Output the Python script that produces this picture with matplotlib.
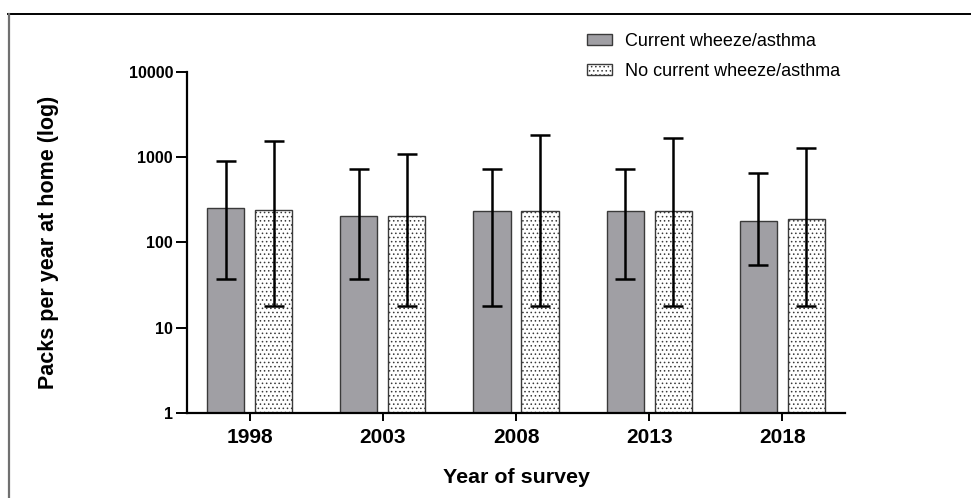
import matplotlib.pyplot as plt
import numpy as np
from matplotlib.lines import Line2D

plt.rcParams['font.family'] = ['Liberation Sans', 'DejaVu Sans']
plt.rcParams['hatch.linewidth'] = 0.6

years = ['1998', '2003', '2008', '2013', '2018']
series_names = ['Current wheeze/asthma', 'No current wheeze/asthma']

# median and range (low, high)
wheeze_mid = [256, 201, 236, 236, 177]
wheeze_low = [37, 37, 18, 37, 54]
wheeze_high = [906, 724, 724, 724, 650]

nowheeze_mid = [241, 201, 234, 234, 188]
nowheeze_low = [18, 18, 18, 18, 18]
nowheeze_high = [1560, 1090, 1820, 1660, 1295]

fig = plt.figure(figsize=(9.71, 4.98), dpi=100)
ax = fig.add_axes([187 / 971, 1 - 413 / 498, 658 / 971, 341 / 498])

x = np.arange(len(years))
w = 0.28
off = 0.18

def draw(xpos, mid, low, high, **kw):
    mid = np.array(mid)
    err = [mid - np.array(low), np.array(high) - mid]
    bars = ax.bar(xpos, mid, width=w, bottom=1, linewidth=1.0, zorder=2, **kw)
    ax.errorbar(xpos, mid, yerr=err, fmt='none', ecolor='black', elinewidth=1.8,
                capsize=7, capthick=1.8, zorder=3)
    return bars

b1 = draw(x - off, wheeze_mid, wheeze_low, wheeze_high,
          color='#a09fa4', edgecolor='#3a3a3a', label=series_names[0])
b2 = draw(x + off, nowheeze_mid, nowheeze_low, nowheeze_high,
          color='white', edgecolor='#3a3a3a', hatch='....', label=series_names[1])

ax.set_yscale('log')
ax.set_ylim(1, 10000)
ax.set_xlim(-0.47, 4.47)
yt = [1, 10, 100, 1000, 10000]
ax.set_yticks(yt)
ax.set_yticklabels([str(v) for v in yt], fontsize=11.5, fontweight='bold')
ax.minorticks_off()
ax.set_xticks(x)
ax.set_xticklabels(years, fontsize=15, fontweight='bold')

for s in ['top', 'right']:
    ax.spines[s].set_visible(False)
for s in ['left', 'bottom']:
    ax.spines[s].set_linewidth(1.6)
ax.tick_params(axis='y', length=8, width=1.4, pad=2)
ax.tick_params(axis='x', length=6, width=1.4, pad=5)

ax.set_ylabel('Packs per year at home (log)', fontsize=15.5, fontweight='bold', va='center')
ax.yaxis.set_label_coords(-0.211, 0.5)
ax.set_xlabel('Year of survey', fontsize=15.4, fontweight='bold', va='center')
ax.xaxis.set_label_coords(0.5, -0.19)

ax.legend(handles=[b1, b2], loc='upper left', bbox_to_anchor=(587 / 971, 1 - 33 / 498),
          bbox_transform=fig.transFigure, frameon=False, fontsize=13,
          handlelength=1.38, handleheight=0.55, handletextpad=0.72,
          labelspacing=0.7, borderpad=0, borderaxespad=0)

# frame lines of the original figure panel
fig.add_artist(Line2D([8 / 971, 1], [1 - 14 / 498, 1 - 14 / 498], color='black', lw=1.4))
fig.add_artist(Line2D([9 / 971, 9 / 971], [0, 1 - 14 / 498], color='#707070', lw=1.6))

fig.savefig('out.png', dpi=100)
